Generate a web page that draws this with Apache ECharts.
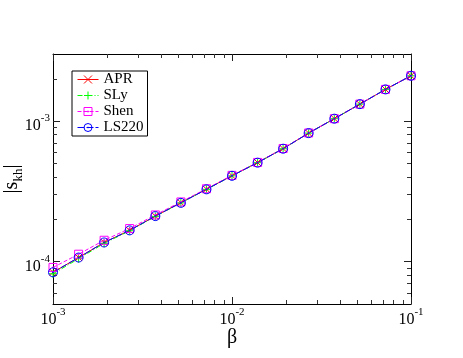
<!DOCTYPE html>
<html>
<head>
<meta charset="utf-8">
<script src="https://cdn.jsdelivr.net/npm/echarts@6/dist/echarts.min.js"></script>
<style>
  html, body { margin: 0; padding: 0; background: #fff; }
  #chart { width: 463px; height: 358px; }
</style>
</head>
<body>
<div id="chart"></div>
<script>
  // beta grid (x) and |s_kh| for each EOS
  var betaVals = [0.001, 0.00139, 0.00193, 0.00268, 0.00373, 0.00518, 0.0072, 0.01,
    0.0139, 0.0193, 0.0268, 0.0373, 0.0518, 0.072, 0.1];
  var aprVals = [8.4e-5, 1.07e-4, 1.37e-4, 1.67e-4, 2.11e-4, 2.63e-4, 3.28e-4, 4.09e-4,
    5.07e-4, 6.37e-4, 8.22e-4, 1.04e-3, 1.32e-3, 1.68e-3, 2.10e-3];
  var slyVals = [8.2e-5, 1.05e-4, 1.35e-4, 1.66e-4, 2.10e-4, 2.62e-4, 3.27e-4, 4.08e-4,
    5.06e-4, 6.36e-4, 8.21e-4, 1.04e-3, 1.32e-3, 1.68e-3, 2.10e-3];
  var shenVals = [9.1e-5, 1.13e-4, 1.42e-4, 1.72e-4, 2.15e-4, 2.66e-4, 3.30e-4, 4.11e-4,
    5.08e-4, 6.38e-4, 8.23e-4, 1.04e-3, 1.32e-3, 1.68e-3, 2.10e-3];
  var ls220Vals = [8.4e-5, 1.07e-4, 1.37e-4, 1.67e-4, 2.11e-4, 2.62e-4, 3.27e-4, 4.08e-4,
    5.06e-4, 6.36e-4, 8.21e-4, 1.04e-3, 1.32e-3, 1.68e-3, 2.10e-3];

  var seriesNames = ['APR', 'SLy', 'Shen', 'LS220'];

  // tick positions
  var xMajor = [0.001, 0.01, 0.1];
  var xMinor = [0.002, 0.003, 0.004, 0.005, 0.006, 0.007, 0.008, 0.009,
    0.02, 0.03, 0.04, 0.05, 0.06, 0.07, 0.08, 0.09];
  var yMajor = [1e-4, 1e-3];
  var yMinor = [6e-5, 7e-5, 8e-5, 9e-5, 2e-4, 3e-4, 4e-4, 5e-4, 6e-4, 7e-4, 8e-4, 9e-4, 2e-3];

  var serif = 'Liberation Serif';

  function pairs(ys) {
    return betaVals.map(function (b, i) { return [b, ys[i]]; });
  }

  function powLabel(v) {
    var e = Math.round(Math.log(v) / Math.LN10);
    return '{b|10}{s|' + e + '}';
  }

  var labelRich = {
    b: { fontFamily: serif, fontSize: 16, lineHeight: 16, padding: [5, 0, 0, 0], verticalAlign: 'top', color: '#000' },
    s: { fontFamily: serif, fontSize: 11, lineHeight: 11, verticalAlign: 'top', color: '#000' }
  };

  function majorAxis(pos, showLabel, extra) {
    var ax = {
      type: 'log',
      logBase: 10,
      position: pos,
      axisLine: { show: true, lineStyle: { color: '#000', width: 1 } },
      axisTick: { show: true, inside: true, length: 7, lineStyle: { color: '#222' } },
      axisLabel: { show: showLabel, margin: 3, formatter: powLabel, rich: labelRich },
      splitLine: { show: false }
    };
    return Object.assign(ax, extra);
  }

  function minorAxis(pos, extra) {
    var ax = {
      type: 'log',
      logBase: 10,
      position: pos,
      axisLine: { show: false },
      axisTick: { show: true, inside: true, length: 4, lineStyle: { color: '#333' } },
      axisLabel: { show: false },
      splitLine: { show: false }
    };
    return Object.assign(ax, extra);
  }

  var xRange = { min: 0.001, max: 0.1 };
  var yRange = { min: 5e-5, max: 3e-3 };

  var xAxes = [
    majorAxis('bottom', true, Object.assign({
      name: 'β',
      nameLocation: 'middle',
      nameGap: 24,
      nameMoveOverlap: false,
      nameTextStyle: { fontFamily: serif, fontSize: 20, color: '#000' }
    }, xRange)),
    minorAxis('bottom', Object.assign({}, xRange)),
    majorAxis('top', false, Object.assign({}, xRange)),
    minorAxis('top', Object.assign({}, xRange))
  ];
  xAxes[0].axisTick.customValues = xMajor;
  xAxes[0].axisLabel.customValues = xMajor;
  xAxes[1].axisTick.customValues = xMinor;
  xAxes[2].axisTick.customValues = xMajor;
  xAxes[3].axisTick.customValues = xMinor;

  var yAxes = [
    majorAxis('left', true, Object.assign({
      name: '{a||s}{k|kh}{a||}',
      nameLocation: 'middle',
      nameRotate: 90,
      nameGap: 31,
      nameMoveOverlap: false,
      nameTextStyle: {
        rich: {
          a: { fontFamily: serif, fontSize: 20, lineHeight: 20, verticalAlign: 'top', color: '#000' },
          k: { fontFamily: serif, fontSize: 13, lineHeight: 13, padding: [10, 0, 0, 0], verticalAlign: 'top', color: '#000' }
        }
      }
    }, yRange)),
    minorAxis('left', Object.assign({}, yRange)),
    majorAxis('right', false, Object.assign({}, yRange)),
    minorAxis('right', Object.assign({}, yRange))
  ];
  yAxes[0].axisTick.customValues = yMajor;
  yAxes[0].axisLabel.customValues = yMajor;
  yAxes[1].axisTick.customValues = yMinor;
  yAxes[2].axisTick.customValues = yMajor;
  yAxes[3].axisTick.customValues = yMinor;

  var symX = 'path://M0 0L10 10M10 0L0 10';
  var symPlus = 'path://M5 0V10M0 5H10';
  var symSquare = 'path://M0 0H10V10H0Z M4.4 4.4H5.6V5.6H4.4Z';
  var symCircle = 'path://M0 5A5 5 0 1 1 10 5A5 5 0 1 1 0 5Z M4.4 5A0.6 0.6 0 1 1 5.6 5A0.6 0.6 0 1 1 4.4 5Z';

  function makeSeries(name, ys, color, symbol, size, dash) {
    return {
      name: name,
      type: 'line',
      data: pairs(ys),
      symbol: symbol,
      symbolSize: size,
      showAllSymbol: true,
      color: color,
      itemStyle: { color: 'rgba(0,0,0,0)', borderColor: color, borderWidth: 1 },
      lineStyle: { color: color, width: 1, type: dash },
      emphasis: { disabled: true },
      animation: false
    };
  }

  var chart = echarts.init(document.getElementById('chart'), null, { renderer: 'canvas' });

  var option = {
    backgroundColor: '#fff',
    animation: false,
    grid: { left: 53, right: 52, top: 54, bottom: 54, containLabel: false, outerBoundsMode: 'none' },
    legend: {
      data: seriesNames,
      orient: 'vertical',
      left: 72,
      top: 71,
      padding: [1, 4, 1, 5],
      itemGap: 1,
      itemWidth: 21,
      itemHeight: 10,
      backgroundColor: '#fff',
      borderColor: '#000',
      borderWidth: 1,
      borderRadius: 0,
      lineStyle: { width: 1 },
      itemStyle: { borderWidth: 1, color: 'rgba(0,0,0,0)' },
      textStyle: { fontFamily: serif, fontSize: 15, lineHeight: 15, color: '#000' },
      selectedMode: false
    },
    xAxis: xAxes,
    yAxis: yAxes,
    series: [
      makeSeries('APR', aprVals, '#ff0000', symX, 7, 'solid'),
      makeSeries('SLy', slyVals, '#00ff00', symPlus, 8, [5, 2, 1, 2]),
      makeSeries('Shen', shenVals, '#ff00ff', symSquare, 8, [4, 2]),
      makeSeries('LS220', ls220Vals, '#0000ff', symCircle, 9, [7, 2])
    ]
  };

  option && chart.setOption(option);
</script>
</body>
</html>
